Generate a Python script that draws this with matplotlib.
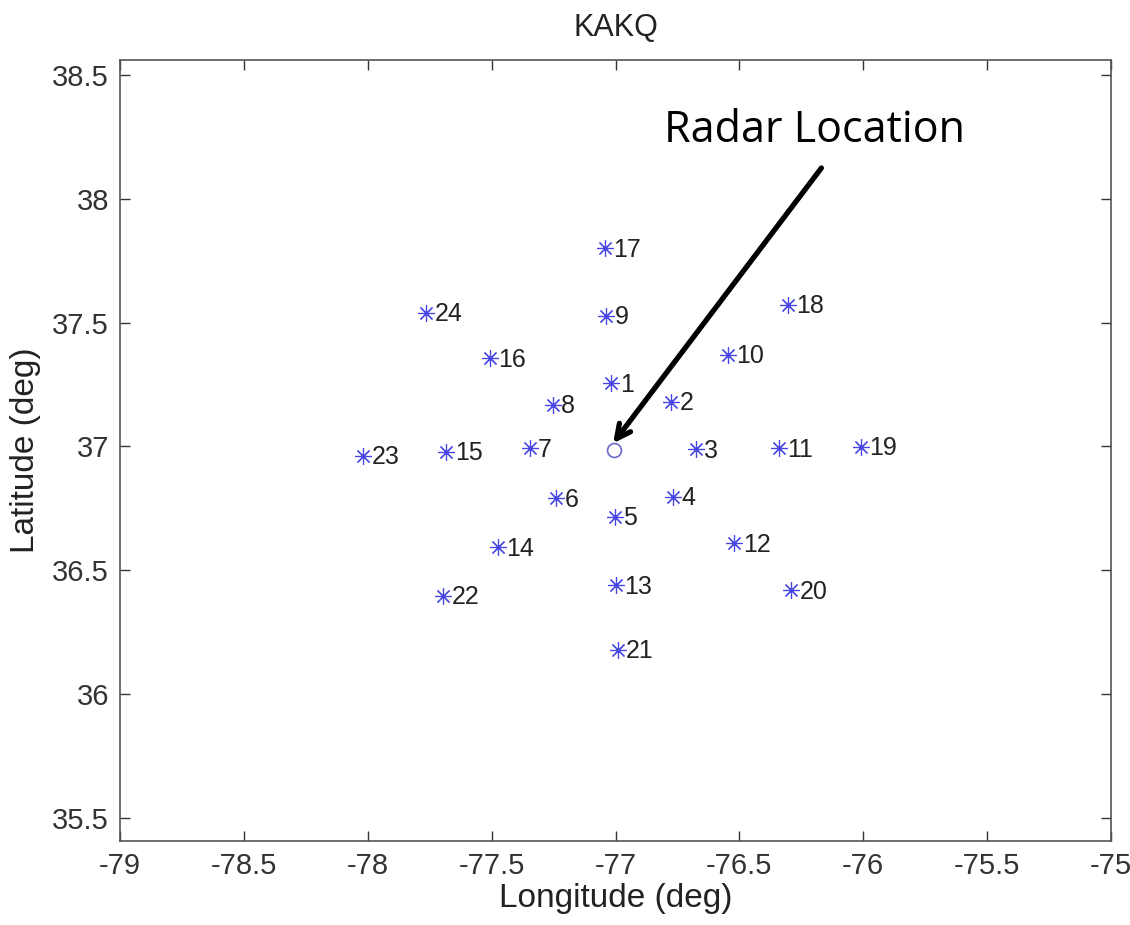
import matplotlib
matplotlib.use("Agg")
import matplotlib.pyplot as plt

plt.rcParams['font.family'] = ['Liberation Sans', 'DejaVu Sans']

# site numbers and positions (deg)
site_ids = list(range(1, 25))
site_lon = [-77.017, -76.776, -76.675, -76.769, -77.004, -77.239, -77.347, -77.253,
            -77.038, -76.547, -76.339, -76.520, -76.997, -77.474, -77.683, -77.508,
            -77.044, -76.305, -76.009, -76.290, -76.991, -77.696, -78.019, -77.763]
site_lat = [37.254, 37.180, 36.988, 36.796, 36.716, 36.790, 36.992, 37.167,
            37.526, 37.369, 36.992, 36.609, 36.439, 36.592, 36.978, 37.355,
            37.800, 37.571, 36.998, 36.419, 36.177, 36.396, 36.961, 37.540]

radar_lon = -77.007
radar_lat = 36.984

x_ticks = [-79, -78.5, -78, -77.5, -77, -76.5, -76, -75.5, -75]
y_ticks = [35.5, 36, 36.5, 37, 37.5, 38, 38.5]


def fmt(v):
    return f"{v:g}"


fig = plt.figure(figsize=(11.3, 9.25), dpi=100)
ax = fig.add_axes([0.1062, 0.0908, 0.877, 0.8443])

# matlab-style asterisk: 8 arms
ax.plot(site_lon, site_lat, linestyle='none', marker=(8, 2, 0), markersize=12,
        markeredgecolor='#4646e6', markeredgewidth=0.85)
ax.plot([radar_lon], [radar_lat], linestyle='none', marker='o', markersize=10,
        markerfacecolor='none', markeredgecolor='#6a6ac8', markeredgewidth=1.2)

for n, lo, la in zip(site_ids, site_lon, site_lat):
    ax.annotate(str(n), (lo, la), xytext=(6, -1), textcoords='offset points',
                ha='left', va='center', fontsize=18, color='#222222')

ax.set_xlim(-79, -75)
ax.set_ylim(35.406, 38.56)
ax.set_xticks(x_ticks)
ax.set_xticklabels([fmt(v) for v in x_ticks])
ax.set_yticks(y_ticks)
ax.set_yticklabels([fmt(v) for v in y_ticks])
ax.tick_params(direction='in', length=7, width=1, labelsize=21, colors='#333333',
               top=True, right=True, pad=8)
for s in ax.spines.values():
    s.set_color('#555555')
    s.set_linewidth(1.2)

ax.set_title("KAKQ", fontsize=22, color='#222222', pad=17)
ax.set_xlabel("Longitude (deg)", fontsize=24, color='#222222', labelpad=2)
ax.set_ylabel("Latitude (deg)", fontsize=24, color='#222222', labelpad=8)

ax.annotate("", xy=(-77.01, 37.012), xytext=(-76.169, 38.124),
            arrowprops=dict(arrowstyle='->, head_length=1.0, head_width=0.5',
                            lw=3.8, color='black', shrinkA=0, shrinkB=0))
ax.text(-76.198, 38.275, "Radar Location", ha='center', va='center',
        fontsize=31, family=['Open Sans', 'DejaVu Sans'], color='black')

fig.savefig("out.png", dpi=100)
